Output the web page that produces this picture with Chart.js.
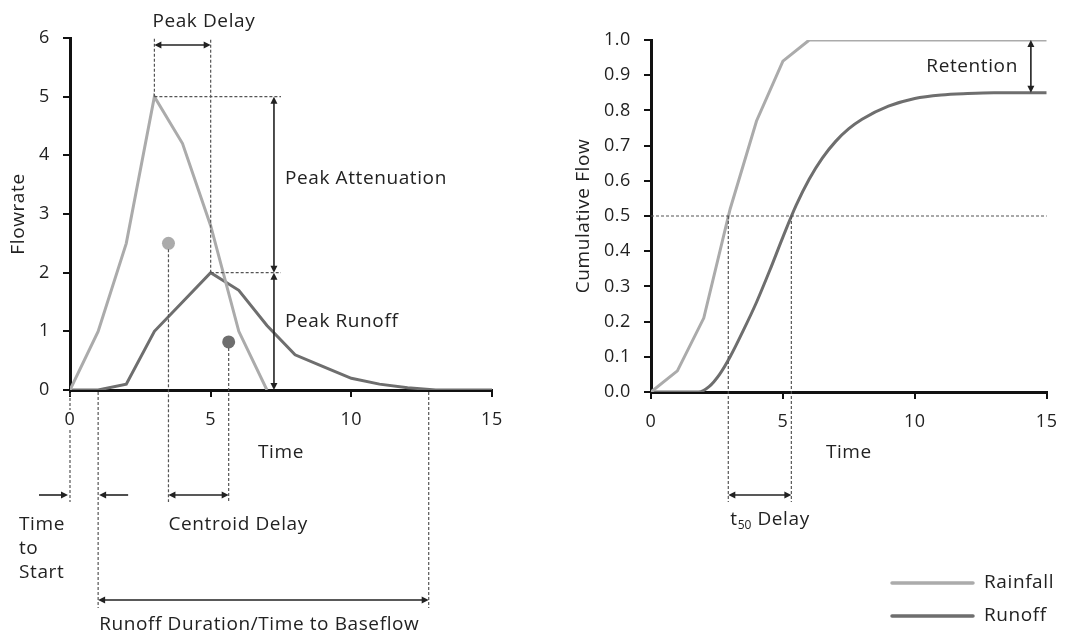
<!DOCTYPE html>
<html><head><meta charset="utf-8">
<script src="https://cdn.jsdelivr.net/npm/chart.js@4/dist/chart.umd.min.js"></script>
<style>
html,body{margin:0;padding:0;background:#fff;}
#wrap{position:relative;width:1069px;height:633px;overflow:hidden;}
#c1{position:absolute;left:0;top:0;width:540px;height:633px;}
#c2{position:absolute;left:540px;top:0;width:529px;height:633px;}
</style></head><body>
<div id="wrap">
<canvas id="c1" width="540" height="633"></canvas>
<canvas id="c2" width="529" height="633"></canvas>
</div>
<script>
// ---- data ----
const seriesNames = ['Rainfall', 'Runoff'];
const rainTimes = [0,1,2,3,4,5,6,7];
const rainfallFlow = [0,1,2.5,5,4.2,2.8,1,0];
const runoffTimes = [0,1,2,3,4,5,6,7,8,9,10,11,12,13,14,15];
const runoffFlow = [0,0,0.1,1,1.5,2,1.7,1.1,0.6,0.4,0.2,0.1,0.04,0,0,0];
const centroidTimes = [3.5, 5.64];
const centroidFlows = [2.5, 0.82];
const cumRainTimes = [0,1,2,3,4,5,6,7,8,9,10,11,12,13,14,15];
const rainfallCum = [0,0.06,0.21,0.52,0.77,0.94,1,1,1,1,1,1,1,1,1,1];
const cumRunoffTimes = [0,1,1.8,2.2,2.6,3,3.5,4,4.5,5,5.5,6,6.5,7,7.5,8,9,10,11,12,13,14,15];
const runoffCum = [0,0,0,0.015,0.05,0.1,0.175,0.255,0.345,0.44,0.53,0.605,0.665,0.712,0.748,0.775,0.812,0.834,0.844,0.848,0.85,0.85,0.85];
const timeTicks = [0,5,10,15];
const flowTicks = [0,1,2,3,4,5,6];
const cumTicks = [0,0.1,0.2,0.3,0.4,0.5,0.6,0.7,0.8,0.9,1.0];
// annotation key times
const peakRainT = 3, peakRunT = 5, peakRain = 5, peakRun = 2;
const startT = 0, runoffStartT = 1, baseflowT = 12.75;
const t50Rain = 2.93, t50Run = 5.32, runoffTotal = 0.85;

const RAIN = '#ababab', RUN = '#6e6e6e', INK = '#222', DASH = '#555';
const FONT = '"Open Sans", "Noto Sans", sans-serif';
const FS = 19, TS = 18, LS = '0.6px';
Chart.defaults.font.family = FONT;
Chart.defaults.font.size = TS;
Chart.defaults.color = INK;

const xy = (xs, ys) => xs.map((x, i) => ({x, y: ys[i]}));

function dashed(ctx, x1, y1, x2, y2) {
  ctx.save(); ctx.strokeStyle = DASH; ctx.lineWidth = 1.2; ctx.setLineDash([3, 2]);
  ctx.beginPath(); ctx.moveTo(x1, y1); ctx.lineTo(x2, y2); ctx.stroke(); ctx.restore();
}
function head(ctx, x, y, ang) {
  const L = 7, W = 3.5;
  ctx.beginPath();
  ctx.moveTo(x, y);
  ctx.lineTo(x - L*Math.cos(ang) + W*Math.sin(ang), y - L*Math.sin(ang) - W*Math.cos(ang));
  ctx.lineTo(x - L*Math.cos(ang) - W*Math.sin(ang), y - L*Math.sin(ang) + W*Math.cos(ang));
  ctx.closePath(); ctx.fill();
}
function arrow(ctx, x1, y1, x2, y2, both) {
  ctx.save(); ctx.strokeStyle = INK; ctx.fillStyle = INK; ctx.lineWidth = 1.6;
  const ang = Math.atan2(y2 - y1, x2 - x1);
  ctx.beginPath(); ctx.moveTo(x1 + (both ? 4*Math.cos(ang) : 0), y1 + (both ? 4*Math.sin(ang) : 0));
  ctx.lineTo(x2 - 4*Math.cos(ang), y2 - 4*Math.sin(ang)); ctx.stroke();
  head(ctx, x2, y2, ang);
  if (both) head(ctx, x1, y1, ang + Math.PI);
  ctx.restore();
}
function text(ctx, s, x, y, align, size) {
  ctx.save(); ctx.fillStyle = INK; ctx.font = (size || FS) + 'px ' + FONT;
  ctx.letterSpacing = size ? '0px' : LS;
  ctx.textAlign = align || 'left'; ctx.textBaseline = 'middle';
  ctx.fillText(s, x, y); ctx.restore();
}

const spacing = {
  id: 'spacing',
  beforeDraw(chart) { chart.ctx.letterSpacing = LS; }
};

const leftAnno = {
  id: 'leftAnno',
  afterDraw(chart) {
    const ctx = chart.ctx, X = v => chart.scales.x.getPixelForValue(v), Y = v => chart.scales.y.getPixelForValue(v);
    const top = Y(6), bot = Y(0);
    // peak delay
    dashed(ctx, X(peakRainT), Y(peakRain), X(peakRainT), top);
    dashed(ctx, X(peakRunT), Y(peakRun), X(peakRunT), top);
    arrow(ctx, X(peakRainT), top + 7, X(peakRunT), top + 7, true);
    text(ctx, 'Peak Delay', X(peakRainT) - 2, top - 16);
    // peak attenuation / runoff
    const ax = X(7.25);
    dashed(ctx, X(peakRainT), Y(peakRain), X(7.5), Y(peakRain));
    dashed(ctx, X(peakRunT), Y(peakRun), X(7.5), Y(peakRun));
    arrow(ctx, ax, Y(peakRain), ax, Y(peakRun), true);
    arrow(ctx, ax, Y(peakRun), ax, bot, true);
    text(ctx, 'Peak Attenuation', ax + 11, Y(3.6));
    text(ctx, 'Peak Runoff', ax + 11, Y(1.17));
    // centroids
    dashed(ctx, X(centroidTimes[0]), Y(centroidFlows[0]) + 6, X(centroidTimes[0]), bot + 112);
    dashed(ctx, X(centroidTimes[1]), Y(centroidFlows[1]) + 6, X(centroidTimes[1]), bot + 112);
    arrow(ctx, X(centroidTimes[0]), bot + 105, X(centroidTimes[1]), bot + 105, true);
    text(ctx, 'Centroid Delay', X(centroidTimes[0]), bot + 135);
    // time to start
    dashed(ctx, X(startT), bot + 3, X(startT), bot + 20);
    dashed(ctx, X(startT), bot + 40, X(startT), bot + 112);
    dashed(ctx, X(runoffStartT), bot + 2, X(runoffStartT), bot + 218);
    arrow(ctx, X(startT) - 31, bot + 105, X(startT) - 2, bot + 105, false);
    arrow(ctx, X(runoffStartT) + 30, bot + 105, X(runoffStartT) + 1, bot + 105, false);
    text(ctx, 'Time', 19, bot + 135);
    text(ctx, 'to', 19, bot + 159);
    text(ctx, 'Start', 19, bot + 183);
    // runoff duration
    dashed(ctx, X(baseflowT), bot + 2, X(baseflowT), bot + 218);
    arrow(ctx, X(runoffStartT), bot + 210, X(baseflowT), bot + 210, true);
    text(ctx, 'Runoff Duration/Time to Baseflow', X(runoffStartT) + 1, bot + 235);
  }
};

const rightAnno = {
  id: 'rightAnno',
  afterDraw(chart) {
    const ctx = chart.ctx, X = v => chart.scales.x.getPixelForValue(v), Y = v => chart.scales.y.getPixelForValue(v);
    const bot = Y(0);
    dashed(ctx, X(0), Y(0.5), X(15), Y(0.5));
    dashed(ctx, X(t50Rain), Y(0.5), X(t50Rain), bot + 110);
    dashed(ctx, X(t50Run), Y(0.5), X(t50Run), bot + 110);
    arrow(ctx, X(t50Rain), bot + 103, X(t50Run), bot + 103, true);
    // t50 Delay
    const tx = X(t50Rain) + 2, ty = bot + 128;
    ctx.save(); ctx.letterSpacing = LS; ctx.font = FS + 'px ' + FONT;
    const wt = ctx.measureText('t').width; ctx.letterSpacing = '0px'; ctx.font = '12px ' + FONT;
    const w50 = ctx.measureText('50').width; ctx.restore();
    text(ctx, 't', tx, ty);
    text(ctx, '50', tx + wt, ty + 6, 'left', 12);
    text(ctx, ' Delay', tx + wt + w50 + 0.5, ty);
    // retention
    const rx = X(14.4);
    arrow(ctx, rx, Y(1), rx, Y(runoffTotal), true);
    text(ctx, 'Retention', rx - 13, Y(0.925), 'right');
    // legend
    const lx1 = 352, lx2 = 433, rows = [583, 616];
    chart.data.datasets.forEach((ds, i) => {
      ctx.save(); ctx.strokeStyle = ds.borderColor; ctx.lineWidth = 3.5; ctx.lineCap = 'round';
      ctx.beginPath(); ctx.moveTo(lx1, rows[i]); ctx.lineTo(lx2, rows[i]); ctx.stroke(); ctx.restore();
      text(ctx, ds.label, 444, rows[i]);
    });
  }
};

function xScale(height, titlePad) {
  return {
    type: 'linear', min: 0, max: 15, z: 1,
    afterBuildTicks: s => { s.ticks = timeTicks.map(v => ({value: v})); },
    afterFit: s => { s.height = height; },
    ticks: {padding: 12, color: INK, font: {size: TS}},
    grid: {drawOnChartArea: false, drawTicks: true, tickLength: 7, color: '#111', lineWidth: 2},
    border: {color: '#111', width: 3},
    title: {display: true, text: 'Time', color: INK, font: {size: FS}, padding: {top: 0, bottom: titlePad}}
  };
}
function yScale(min, max, ticksArr, width, title, titlePad, fmt) {
  return {
    type: 'linear', min, max, z: 1,
    afterBuildTicks: s => { s.ticks = ticksArr.map(v => ({value: v})); },
    afterFit: s => { s.width = width; },
    ticks: {padding: 13, color: INK, font: {size: TS}, callback: fmt},
    grid: {drawOnChartArea: false, drawTicks: true, tickLength: 7, color: '#111', lineWidth: 2},
    border: {color: '#111', width: 3},
    title: {display: true, text: title, color: INK, font: {size: FS}, padding: {top: titlePad, bottom: 0}}
  };
}

new Chart(document.getElementById('c1'), {
  type: 'line',
  data: {datasets: [
    {label: seriesNames[0], data: xy(rainTimes, rainfallFlow), borderColor: RAIN, backgroundColor: RAIN, borderWidth: 3, pointRadius: 0, tension: 0},
    {label: seriesNames[1], data: xy(runoffTimes, runoffFlow), borderColor: RUN, backgroundColor: RUN, borderWidth: 3, pointRadius: 0, tension: 0},
    {label: seriesNames[0] + ' centroid', data: [{x: centroidTimes[0], y: centroidFlows[0]}], showLine: false, pointRadius: 6.5, pointBackgroundColor: RAIN, pointBorderWidth: 0, borderColor: RAIN},
    {label: seriesNames[1] + ' centroid', data: [{x: centroidTimes[1], y: centroidFlows[1]}], showLine: false, pointRadius: 6.5, pointBackgroundColor: RUN, pointBorderWidth: 0, borderColor: RUN}
  ]},
  options: {
    responsive: false, animation: false, events: [],
    layout: {padding: {left: 0, top: 38, right: 48, bottom: 0}},
    plugins: {legend: {display: false}, tooltip: {enabled: false}},
    scales: {x: xScale(243, 168.6), y: yScale(0, 6, flowTicks, 70, 'Flowrate', 7.6, v => String(v))}
  },
  plugins: [spacing, leftAnno]
});

new Chart(document.getElementById('c2'), {
  type: 'line',
  data: {datasets: [
    {label: seriesNames[0], data: xy(cumRainTimes, rainfallCum), borderColor: RAIN, backgroundColor: RAIN, borderWidth: 3, pointRadius: 0, tension: 0},
    {label: seriesNames[1], data: xy(cumRunoffTimes, runoffCum), borderColor: RUN, backgroundColor: RUN, borderWidth: 3, pointRadius: 0, cubicInterpolationMode: 'monotone'}
  ]},
  options: {
    responsive: false, animation: false, events: [],
    layout: {padding: {left: 0, top: 40, right: 17, bottom: 0}},
    plugins: {legend: {display: false}, tooltip: {enabled: false}},
    scales: {x: xScale(241, 168.6), y: yScale(0, 1, cumTicks, 111, 'Cumulative Flow', 32.6, v => Number(v).toFixed(1))}
  },
  plugins: [spacing, rightAnno]
});
</script>
</body></html>
